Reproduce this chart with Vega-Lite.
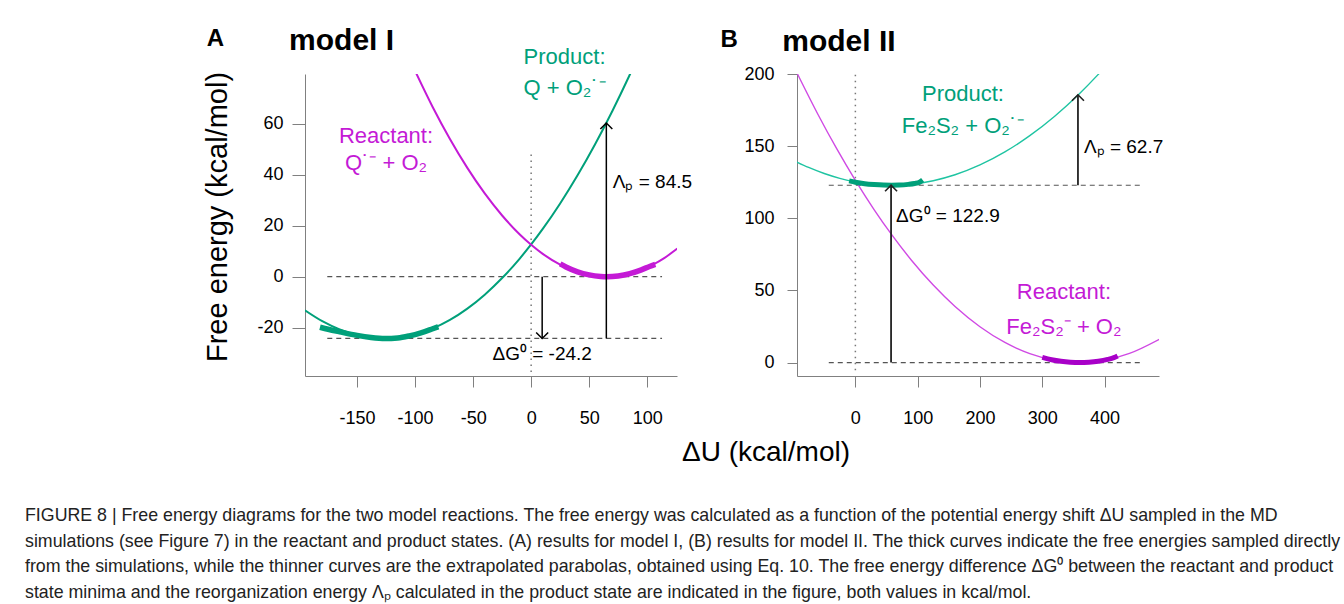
{
  "$schema": "https://vega.github.io/schema/vega-lite/v6.json",
  "padding": {"left": 25, "top": 26, "right": 5, "bottom": 5},
  "background": "white",
  "config": {
    "font": "Liberation Sans",
    "view": {"stroke": null},
    "axis": {"grid": false, "domainColor": "#808080", "tickColor": "#808080", "labelColor": "#000", "labelFontSize": 18, "labelFont": "Liberation Sans", "titleFont": "Liberation Sans", "titleFontWeight": "normal", "titleFontSize": 28, "titleColor": "#000", "labelFlush": false, "labelOverlap": false}
  },
  "datasets": {
    "a_curves": [
      {"x": -195, "G": -13.15, "series": "product"}, {"x": -180, "G": -17.43, "series": "product"}, {"x": -165, "G": -20.67, "series": "product"}, {"x": -150, "G": -22.86, "series": "product"}, {"x": -135, "G": -24.01, "series": "product"}, {"x": -126, "G": -24.2, "series": "product"}, {"x": -115, "G": -23.92, "series": "product"}, {"x": -100, "G": -22.63, "series": "product"}, {"x": -85, "G": -20.3, "series": "product"}, {"x": -70, "G": -16.92, "series": "product"}, {"x": -55, "G": -12.5, "series": "product"}, {"x": -40, "G": -7.04, "series": "product"}, {"x": -25, "G": -0.53, "series": "product"}, {"x": -10, "G": 7.02, "series": "product"}, {"x": 0, "G": 12.63, "series": "product"}, {"x": 10, "G": 18.71, "series": "product"}, {"x": 25, "G": 28.7, "series": "product"}, {"x": 40, "G": 39.73, "series": "product"}, {"x": 55, "G": 51.81, "series": "product"}, {"x": 70, "G": 64.93, "series": "product"}, {"x": 85, "G": 79.09, "series": "product"}, {"x": 90, "G": 84.04, "series": "product"},
      {"x": -100, "G": 80.59, "series": "reactant"}, {"x": -85, "G": 66.6, "series": "reactant"}, {"x": -70, "G": 53.95, "series": "reactant"}, {"x": -55, "G": 42.62, "series": "reactant"}, {"x": -40, "G": 32.63, "series": "reactant"}, {"x": -25, "G": 23.98, "series": "reactant"}, {"x": -10, "G": 16.65, "series": "reactant"}, {"x": 0, "G": 12.51, "series": "reactant"}, {"x": 10, "G": 8.95, "series": "reactant"}, {"x": 25, "G": 4.74, "series": "reactant"}, {"x": 40, "G": 1.85, "series": "reactant"}, {"x": 55, "G": 0.3, "series": "reactant"}, {"x": 65, "G": 0, "series": "reactant"}, {"x": 75, "G": 0.3, "series": "reactant"}, {"x": 90, "G": 1.85, "series": "reactant"}, {"x": 105, "G": 4.74, "series": "reactant"}, {"x": 115, "G": 7.4, "series": "reactant"}, {"x": 126, "G": 11.01, "series": "reactant"}
    ],
    "a_samples": [
      {"x": -182, "G": -19.8, "series": "product_s"}, {"x": -175, "G": -20.6, "series": "product_s"}, {"x": -165, "G": -21.6, "series": "product_s"}, {"x": -150, "G": -23.0, "series": "product_s"}, {"x": -138, "G": -23.8, "series": "product_s"}, {"x": -126, "G": -24.2, "series": "product_s"}, {"x": -115, "G": -24.0, "series": "product_s"}, {"x": -105, "G": -23.2, "series": "product_s"}, {"x": -95, "G": -22.0, "series": "product_s"}, {"x": -86, "G": -20.6, "series": "product_s"}, {"x": -80, "G": -19.6, "series": "product_s"},
      {"x": 25, "G": 5.0, "series": "reactant_s"}, {"x": 30, "G": 3.8, "series": "reactant_s"}, {"x": 40, "G": 1.9, "series": "reactant_s"}, {"x": 50, "G": 0.7, "series": "reactant_s"}, {"x": 60, "G": 0.1, "series": "reactant_s"}, {"x": 65, "G": 0, "series": "reactant_s"}, {"x": 75, "G": 0.3, "series": "reactant_s"}, {"x": 85, "G": 1.2, "series": "reactant_s"}, {"x": 95, "G": 2.7, "series": "reactant_s"}, {"x": 102, "G": 4.0, "series": "reactant_s"}, {"x": 107, "G": 4.8, "series": "reactant_s"}
    ],
    "a_dash": [{"x": -175.7, "x2": 112.8, "G": 0}, {"x": -175.7, "x2": 112.8, "G": -24.2}],
    "a_dot": [{"x": 0, "G": -37.3, "G2": 49}],
    "a_arrows": [{"x": 9.5, "G": 0, "G2": -24.2, "dir": "down"}, {"x": 64.8, "G": -24.2, "G2": 60.2, "dir": "up"}],
    "a_labels": [
      {"x": 28.8, "G": 83.3, "label": "Product:", "series": "product_lbl"},
      {"x": 28.8, "G": 71.25, "label": "Q + O₂˙⁻", "series": "product_lbl"},
      {"x": -125.1, "G": 52.3, "label": "Reactant:", "series": "reactant_lbl"},
      {"x": -125.1, "G": 41.8, "label": "Q˙⁻ + O₂", "series": "reactant_lbl"}
    ],
    "a_notes_left": [{"x": 70.3, "G": 34.7, "label": "Λₚ = 84.5"}],
    "a_notes_center": [{"x": 9.5, "G": -32.7, "label": "ΔG⁰ = -24.2"}],
    "a_head_c": [{"x": -272, "G": 90.2, "label": "A"}],
    "a_head_l": [{"x": -208.6, "G": 88.7, "label": "model I"}],
    "b_curves": [
      {"x": -94, "G": 139.0, "series": "product"}, {"x": -75, "G": 135.23, "series": "product"}, {"x": -50, "G": 131.03, "series": "product"}, {"x": -25, "G": 127.7, "series": "product"}, {"x": 0, "G": 125.24, "series": "product"}, {"x": 25, "G": 123.66, "series": "product"}, {"x": 58, "G": 122.9, "series": "product"}, {"x": 90, "G": 123.61, "series": "product"}, {"x": 125, "G": 126.03, "series": "product"}, {"x": 160, "G": 130.15, "series": "product"}, {"x": 200, "G": 136.95, "series": "product"}, {"x": 240, "G": 145.99, "series": "product"}, {"x": 280, "G": 157.25, "series": "product"}, {"x": 320, "G": 170.74, "series": "product"}, {"x": 358, "G": 185.63, "series": "product"}, {"x": 390, "G": 199.73, "series": "product"}, {"x": 395, "G": 202.06, "series": "product"},
      {"x": -94, "G": 200.93, "series": "reactant"}, {"x": -60, "G": 171.93, "series": "reactant"}, {"x": -30, "G": 148.22, "series": "reactant"}, {"x": 0, "G": 126.27, "series": "reactant"}, {"x": 30, "G": 106.07, "series": "reactant"}, {"x": 58, "G": 88.81, "series": "reactant"}, {"x": 90, "G": 70.96, "series": "reactant"}, {"x": 125, "G": 53.73, "series": "reactant"}, {"x": 160, "G": 38.88, "series": "reactant"}, {"x": 200, "G": 24.86, "series": "reactant"}, {"x": 240, "G": 13.95, "series": "reactant"}, {"x": 280, "G": 6.17, "series": "reactant"}, {"x": 320, "G": 1.52, "series": "reactant"}, {"x": 359.5, "G": 0, "series": "reactant"}, {"x": 400, "G": 1.6, "series": "reactant"}, {"x": 440, "G": 6.33, "series": "reactant"}, {"x": 488, "G": 16.13, "series": "reactant"}
    ],
    "b_samples": [
      {"x": -10, "G": 125.9, "series": "product_s"}, {"x": 0, "G": 125.0, "series": "product_s"}, {"x": 15, "G": 124.0, "series": "product_s"}, {"x": 30, "G": 123.4, "series": "product_s"}, {"x": 45, "G": 123.0, "series": "product_s"}, {"x": 58, "G": 122.9, "series": "product_s"}, {"x": 70, "G": 123.0, "series": "product_s"}, {"x": 85, "G": 123.5, "series": "product_s"}, {"x": 95, "G": 124.1, "series": "product_s"}, {"x": 103, "G": 125.0, "series": "product_s"}, {"x": 108, "G": 126.5, "series": "product_s"},
      {"x": 300, "G": 3.6, "series": "reactant_s"}, {"x": 315, "G": 2.0, "series": "reactant_s"}, {"x": 330, "G": 0.9, "series": "reactant_s"}, {"x": 345, "G": 0.25, "series": "reactant_s"}, {"x": 360, "G": 0, "series": "reactant_s"}, {"x": 375, "G": 0.25, "series": "reactant_s"}, {"x": 390, "G": 0.95, "series": "reactant_s"}, {"x": 405, "G": 2.2, "series": "reactant_s"}, {"x": 415, "G": 3.4, "series": "reactant_s"}, {"x": 421, "G": 4.6, "series": "reactant_s"}
    ],
    "b_dash": [{"x": -42.7, "x2": 457.8, "G": 0}, {"x": -42.7, "x2": 457.8, "G": 122.9}],
    "b_dot": [{"x": 0, "G": -5.3, "G2": 200}],
    "b_arrows": [{"x": 57.3, "G": 0, "G2": 122.9, "dir": "up"}, {"x": 357.3, "G": 122.9, "G2": 185.6, "dir": "up"}],
    "b_labels": [
      {"x": 172.7, "G": 181, "label": "Product:", "series": "product_lbl"},
      {"x": 172.7, "G": 159, "label": "Fe₂S₂ + O₂˙⁻", "series": "product_lbl"},
      {"x": 334.8, "G": 44.4, "label": "Reactant:", "series": "reactant_lbl"},
      {"x": 334.8, "G": 20.1, "label": "Fe₂S₂⁻ + O₂", "series": "reactant_lbl"}
    ],
    "b_notes_left": [{"x": 65.4, "G": 97.7, "label": "ΔG⁰ = 122.9"}, {"x": 366.9, "G": 145.1, "label": "Λₚ = 62.7"}],
    "b_head_c": [{"x": -202.4, "G": 218.75, "label": "B"}],
    "b_head_l": [{"x": -117.3, "G": 216.2, "label": "model II"}]
  },
  "title": {
    "text": [
      "FIGURE 8 | Free energy diagrams for the two model reactions. The free energy was calculated as a function of the potential energy shift ΔU sampled in the MD",
      "simulations (see Figure 7) in the reactant and product states. (A) results for model I, (B) results for model II. The thick curves indicate the free energies sampled directly",
      "from the simulations, while the thinner curves are the extrapolated parabolas, obtained using Eq. 10. The free energy difference ΔG⁰ between the reactant and product",
      "state minima and the reorganization energy Λₚ calculated in the product state are indicated in the figure, both values in kcal/mol."
    ],
    "orient": "bottom", "anchor": "start", "fontSize": 17.8, "fontWeight": "normal", "color": "#222", "lineHeight": 25.5, "offset": 41, "dx": -178, "font": "Liberation Sans"
  },
  "spacing": 120,
  "bounds": "flush",
  "resolve": {"scale": {"x": "independent", "y": "independent", "color": "independent", "shape": "independent"}},
  "hconcat": [
    {
      "width": 372, "height": 302,
      "layer": [
        {"data": {"name": "a_dash"}, "mark": {"type": "rule", "strokeDash": [5, 4], "color": "#555", "strokeWidth": 1.2},
         "encoding": {
           "x": {"field": "x", "type": "quantitative", "scale": {"domain": [-194.9, 125.7], "nice": false, "zero": false},
                 "axis": {"values": [-150, -100, -50, 0, 50, 100], "tickSize": 11, "labelPadding": 22, "labelExpr": "'' + datum.value", "title": "ΔU (kcal/mol)", "titleX": 460.5, "titleY": 84, "titleBaseline": "alphabetic", "titleAlign": "center"}},
           "x2": {"field": "x2"},
           "y": {"field": "G", "type": "quantitative", "scale": {"domain": [-38.9, 79.4], "nice": false, "zero": false},
                 "axis": {"values": [-20, 0, 20, 40, 60], "tickSize": 13, "labelPadding": 9, "labelExpr": "'' + datum.value", "title": "Free energy (kcal/mol)", "titleFontSize": 29, "titleX": -79, "titleY": 142.5, "titleAngle": 270, "titleBaseline": "alphabetic", "titleAlign": "center"}}
         }},
        {"data": {"name": "a_dot"}, "mark": {"type": "rule", "strokeDash": [1.5, 4.5], "color": "#777", "strokeWidth": 1.5},
         "encoding": {"x": {"field": "x", "type": "quantitative"}, "y": {"field": "G", "type": "quantitative"}, "y2": {"field": "G2"}}},
        {"data": {"name": "a_curves"}, "mark": {"type": "line", "strokeWidth": 2, "clip": true, "interpolate": "monotone"},
         "encoding": {"x": {"field": "x", "type": "quantitative"}, "y": {"field": "G", "type": "quantitative"},
           "color": {"field": "series", "type": "nominal", "legend": null, "scale": {"domain": ["product", "reactant", "product_s", "reactant_s", "product_lbl", "reactant_lbl"], "range": ["#00a07a", "#c41ad6", "#00a07a", "#c41ad6", "#00a07a", "#c41ad6"]}}}},
        {"data": {"name": "a_samples"}, "mark": {"type": "line", "strokeWidth": 5.5, "clip": true, "interpolate": "monotone"},
         "encoding": {"x": {"field": "x", "type": "quantitative"}, "y": {"field": "G", "type": "quantitative"}, "color": {"field": "series", "type": "nominal", "legend": null}}},
        {"data": {"name": "a_arrows"}, "mark": {"type": "rule", "color": "#000", "strokeWidth": 1.5},
         "encoding": {"x": {"field": "x", "type": "quantitative"}, "y": {"field": "G", "type": "quantitative"}, "y2": {"field": "G2"}}},
        {"data": {"name": "a_arrows"}, "mark": {"type": "point", "filled": false, "size": 144, "strokeWidth": 1.5, "color": "#000", "opacity": 1},
         "encoding": {"x": {"field": "x", "type": "quantitative"}, "y": {"field": "G2", "type": "quantitative"},
           "shape": {"field": "dir", "type": "nominal", "legend": null, "scale": {"domain": ["up", "down"], "range": ["M-1,1L0,0L1,1", "M-1,-1L0,0L1,-1"]}}}},
        {"data": {"name": "a_labels"}, "mark": {"type": "text", "fontSize": 22, "align": "center", "baseline": "alphabetic"},
         "encoding": {"x": {"field": "x", "type": "quantitative"}, "y": {"field": "G", "type": "quantitative"}, "text": {"field": "label"}, "color": {"field": "series", "type": "nominal", "legend": null}}},
        {"data": {"name": "a_notes_left"}, "mark": {"type": "text", "fontSize": 19, "align": "left", "baseline": "alphabetic", "color": "#000"},
         "encoding": {"x": {"field": "x", "type": "quantitative"}, "y": {"field": "G", "type": "quantitative"}, "text": {"field": "label"}}},
        {"data": {"name": "a_notes_center"}, "mark": {"type": "text", "fontSize": 19, "align": "center", "baseline": "alphabetic", "color": "#000"},
         "encoding": {"x": {"field": "x", "type": "quantitative"}, "y": {"field": "G", "type": "quantitative"}, "text": {"field": "label"}}},
        {"data": {"name": "a_head_c"}, "mark": {"type": "text", "fontSize": 24, "fontWeight": "bold", "align": "center", "baseline": "alphabetic", "color": "#000"},
         "encoding": {"x": {"field": "x", "type": "quantitative"}, "y": {"field": "G", "type": "quantitative"}, "text": {"field": "label"}}},
        {"data": {"name": "a_head_l"}, "mark": {"type": "text", "fontSize": 30, "fontWeight": "bold", "align": "left", "baseline": "alphabetic", "color": "#000"},
         "encoding": {"x": {"field": "x", "type": "quantitative"}, "y": {"field": "G", "type": "quantitative"}, "text": {"field": "label"}}}
      ]
    },
    {
      "width": 362, "height": 302,
      "layer": [
        {"data": {"name": "b_dash"}, "mark": {"type": "rule", "strokeDash": [5, 4], "color": "#555", "strokeWidth": 1.2},
         "encoding": {
           "x": {"field": "x", "type": "quantitative", "scale": {"domain": [-93.7, 487.4], "nice": false, "zero": false},
                 "axis": {"values": [0, 100, 200, 300, 400], "tickSize": 11, "labelPadding": 22, "labelExpr": "'' + datum.value", "title": null}},
           "x2": {"field": "x2"},
           "y": {"field": "G", "type": "quantitative", "scale": {"domain": [-9.3, 200], "nice": false, "zero": false},
                 "axis": {"values": [0, 50, 100, 150, 200], "tickSize": 10, "labelPadding": 13, "labelExpr": "'' + datum.value", "title": null}}
         }},
        {"data": {"name": "b_dot"}, "mark": {"type": "rule", "strokeDash": [1.5, 4.5], "color": "#777", "strokeWidth": 1.5},
         "encoding": {"x": {"field": "x", "type": "quantitative"}, "y": {"field": "G", "type": "quantitative"}, "y2": {"field": "G2"}}},
        {"data": {"name": "b_curves"}, "mark": {"type": "line", "strokeWidth": 1.4, "clip": true, "interpolate": "monotone"},
         "encoding": {"x": {"field": "x", "type": "quantitative"}, "y": {"field": "G", "type": "quantitative"},
           "color": {"field": "series", "type": "nominal", "legend": null, "scale": {"domain": ["product", "reactant", "product_s", "reactant_s", "product_lbl", "reactant_lbl"], "range": ["#1fc4a2", "#d04ae4", "#00a07a", "#a800c8", "#00a07a", "#c41ad6"]}}}},
        {"data": {"name": "b_samples"}, "mark": {"type": "line", "strokeWidth": 5, "clip": true, "interpolate": "monotone"},
         "encoding": {"x": {"field": "x", "type": "quantitative"}, "y": {"field": "G", "type": "quantitative"}, "color": {"field": "series", "type": "nominal", "legend": null}}},
        {"data": {"name": "b_arrows"}, "mark": {"type": "rule", "color": "#222", "strokeWidth": 1.8},
         "encoding": {"x": {"field": "x", "type": "quantitative"}, "y": {"field": "G", "type": "quantitative"}, "y2": {"field": "G2"}}},
        {"data": {"name": "b_arrows"}, "mark": {"type": "point", "filled": false, "size": 144, "strokeWidth": 1.6, "color": "#222", "opacity": 1},
         "encoding": {"x": {"field": "x", "type": "quantitative"}, "y": {"field": "G2", "type": "quantitative"},
           "shape": {"field": "dir", "type": "nominal", "legend": null, "scale": {"domain": ["up", "down"], "range": ["M-1,1L0,0L1,1", "M-1,-1L0,0L1,-1"]}}}},
        {"data": {"name": "b_labels"}, "mark": {"type": "text", "fontSize": 22, "align": "center", "baseline": "alphabetic"},
         "encoding": {"x": {"field": "x", "type": "quantitative"}, "y": {"field": "G", "type": "quantitative"}, "text": {"field": "label"}, "color": {"field": "series", "type": "nominal", "legend": null}}},
        {"data": {"name": "b_notes_left"}, "mark": {"type": "text", "fontSize": 19, "align": "left", "baseline": "alphabetic", "color": "#000"},
         "encoding": {"x": {"field": "x", "type": "quantitative"}, "y": {"field": "G", "type": "quantitative"}, "text": {"field": "label"}}},
        {"data": {"name": "b_head_c"}, "mark": {"type": "text", "fontSize": 24, "fontWeight": "bold", "align": "center", "baseline": "alphabetic", "color": "#000"},
         "encoding": {"x": {"field": "x", "type": "quantitative"}, "y": {"field": "G", "type": "quantitative"}, "text": {"field": "label"}}},
        {"data": {"name": "b_head_l"}, "mark": {"type": "text", "fontSize": 30, "fontWeight": "bold", "align": "left", "baseline": "alphabetic", "color": "#000"},
         "encoding": {"x": {"field": "x", "type": "quantitative"}, "y": {"field": "G", "type": "quantitative"}, "text": {"field": "label"}}}
      ]
    }
  ]
}
